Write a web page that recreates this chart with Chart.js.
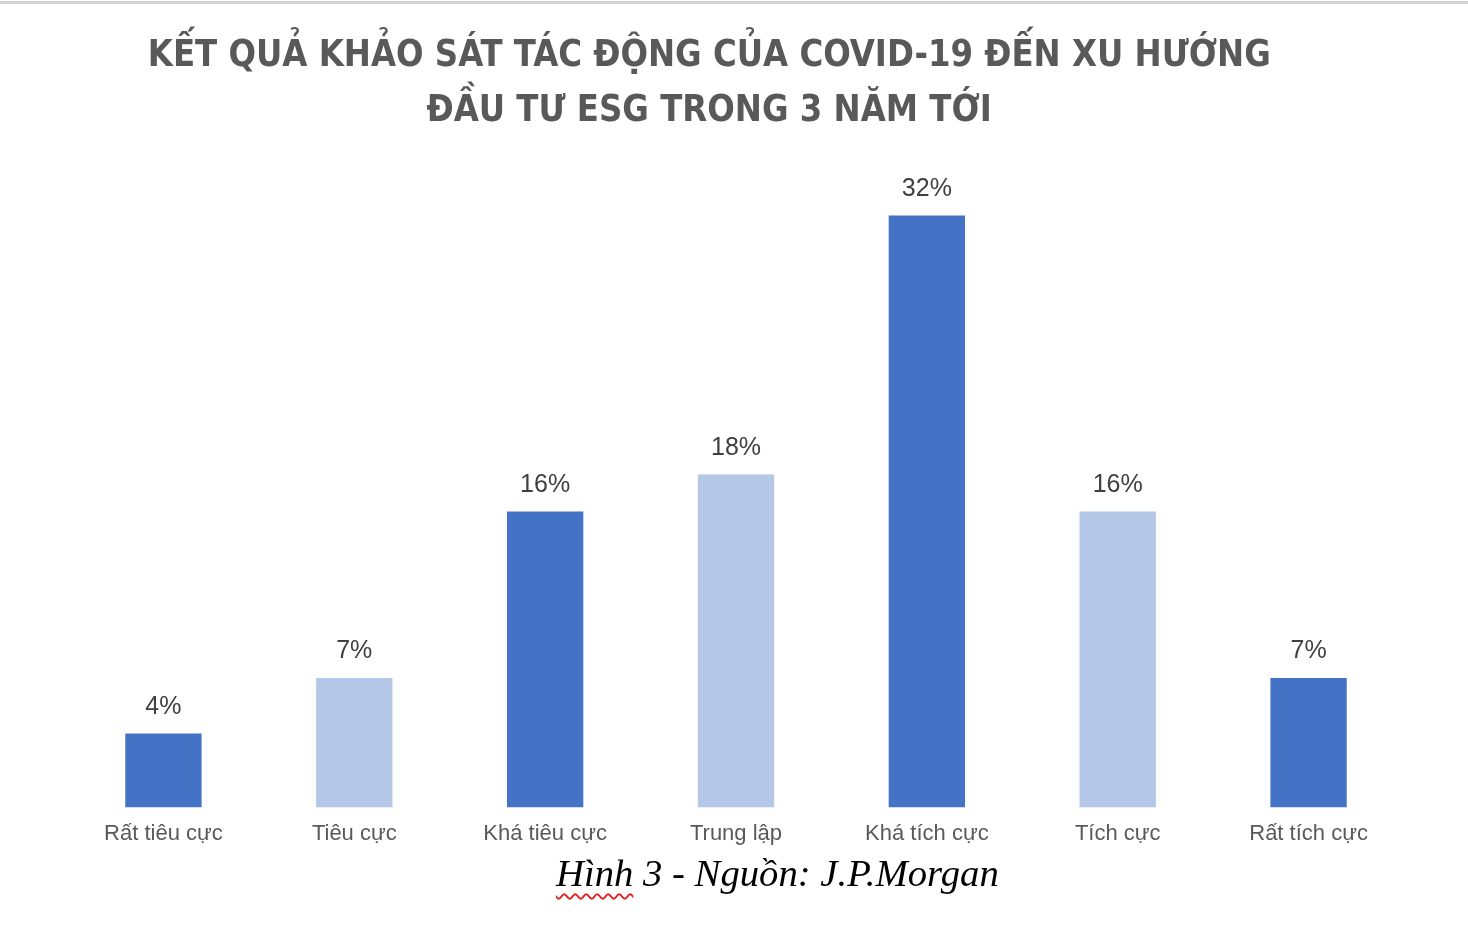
<!DOCTYPE html>
<html>
<head>
<meta charset="utf-8">
<script src="https://cdn.jsdelivr.net/npm/chart.js@4.4.1/dist/chart.umd.min.js"></script>
<style>
  html, body { margin: 0; padding: 0; background: #ffffff; }
  #khung { position: relative; width: 1468px; height: 926px; overflow: hidden; }
  #vien { position: absolute; left: 0; top: 1px; width: 1468px; height: 3px; background: #d2d2d2; }
  #tieuDe {
    position: absolute; left: 0; top: 0; width: 1418px; text-align: center;
    font-family: "Liberation Sans Narrow", "DejaVu Sans Condensed", "Open Sans", sans-serif;
    font-weight: bold; color: #595959; font-size: 38px;
  }
  #tieuDe div { position: absolute; left: 0; width: 1418px; white-space: nowrap; }
  #tieuDe span { display: inline-block; transform-origin: center; }
  #chu { position: absolute; left: 556px; top: 851px; font-family: "Liberation Serif", "Times New Roman", serif;
    font-style: italic; font-size: 38.7px; color: #000; white-space: nowrap; }
  #chu .loi { text-decoration: underline wavy #e02020; text-decoration-thickness: 1.5px; text-underline-offset: 7px; }
  #bieuDo { position: absolute; left: 0; top: 0; }
</style>
</head>
<body>
<div id="khung">
  <div id="vien"></div>
  <canvas id="bieuDo" width="1468" height="870"></canvas>
  <div id="tieuDe">
    <div id="dong1" style="top:31px"><span>KẾT QUẢ KHẢO SÁT TÁC ĐỘNG CỦA COVID-19 ĐẾN XU HƯỚNG</span></div>
    <div id="dong2" style="top:86px"><span>ĐẦU TƯ ESG TRONG 3 NĂM TỚI</span></div>
  </div>
  <div id="chu"><span class="loi">Hình</span> 3 - Nguồn: J.P.Morgan</div>
</div>
<script>
const mucDo = ["Rất tiêu cực", "Tiêu cực", "Khá tiêu cực", "Trung lập", "Khá tích cực", "Tích cực", "Rất tích cực"]
const tyLe = [4, 7, 16, 18, 32, 16, 7]
const mauCot = ['#4472C4', '#B4C7E7', '#4472C4', '#B4C7E7', '#4472C4', '#B4C7E7', '#4472C4']

// co chữ tiêu đề cho vừa bề rộng như ảnh gốc
const span1 = document.querySelector('#dong1 span')
const span2 = document.querySelector('#dong2 span')
const heSo = 1123 / span1.getBoundingClientRect().width
span1.style.transform = 'scaleX(' + heSo + ')'
span2.style.transform = 'scaleX(' + heSo + ')'

const nhanGiaTri = {
    id: 'nhanGiaTri',
    afterDatasetsDraw(chart) {
        const ctx = chart.ctx
        const meta = chart.getDatasetMeta(0)
        ctx.save()
        ctx.font = '25px "Liberation Sans", Arial, sans-serif'
        ctx.fillStyle = '#404040'
        ctx.textAlign = 'center'
        ctx.textBaseline = 'alphabetic'
        meta.data.forEach((cot, i) => {
            ctx.fillText(tyLe[i] + '%', cot.x, cot.y - 20)
        })
        ctx.restore()
    }
}

new Chart(document.getElementById('bieuDo'), {
    type: 'bar',
    data: {
        labels: mucDo,
        datasets: [{
            label: 'Tỷ lệ',
            data: tyLe,
            backgroundColor: mauCot,
            borderWidth: 0,
            categoryPercentage: 1,
            barPercentage: 0.4
        }]
    },
    options: {
        responsive: false,
        animation: false,
        layout: {
            padding: { left: 68, right: 64, top: 160, bottom: 10 }
        },
        plugins: {
            legend: { display: false },
            title: { display: false },
            tooltip: { enabled: false }
        },
        scales: {
            x: {
                grid: { display: false, drawTicks: false },
                border: { display: false },
                ticks: {
                    color: '#595959',
                    padding: 13,
                    maxRotation: 0,
                    autoSkip: false,
                    font: { family: '"Liberation Sans", Arial, sans-serif', size: 22 }
                }
            },
            y: {
                display: false,
                min: 0,
                max: 35
            }
        }
    },
    plugins: [nhanGiaTri]
});
</script>
</body>
</html>
